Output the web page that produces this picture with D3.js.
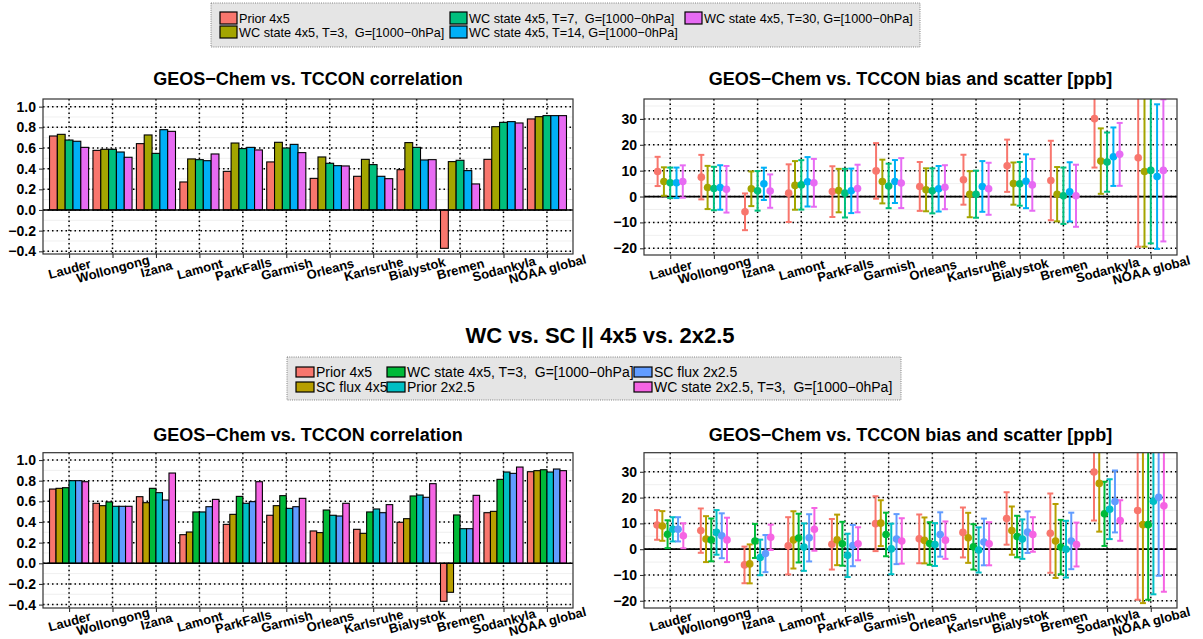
<!DOCTYPE html>
<html><head><meta charset="utf-8">
<script src="https://cdn.jsdelivr.net/npm/d3@7"></script>
<style>
body{margin:0;background:#fff;}
svg{display:block;}
text{font-family:"Liberation Sans",Arial,Helvetica,sans-serif;}
</style>
</head><body>
<svg id="c" width="1203" height="639"></svg>
<script>
// ---------------- DATA ----------------
const categories = ["Lauder","Wollongong","Izana","Lamont","ParkFalls","Garmish","Orleans","Karlsruhe","Bialystok","Bremen","Sodankyla","NOAA global"];

// Figure A (top): WC state windows
const seriesA = ["Prior 4x5","WC state 4x5, T=3,  G=[1000\u22120hPa]","WC state 4x5, T=7,  G=[1000\u22120hPa]","WC state 4x5, T=14, G=[1000\u22120hPa]","WC state 4x5, T=30, G=[1000\u22120hPa]"];
const corrA = [
  [0.716,0.577,0.642,0.271,0.374,0.465,0.306,0.326,0.390,-0.371,0.490,0.881],
  [0.732,0.587,0.726,0.494,0.648,0.655,0.513,0.490,0.652,0.468,0.806,0.903],
  [0.677,0.587,0.548,0.487,0.594,0.600,0.452,0.439,0.606,0.481,0.848,0.913],
  [0.665,0.561,0.777,0.477,0.606,0.635,0.429,0.326,0.484,0.381,0.855,0.913],
  [0.606,0.510,0.761,0.542,0.581,0.555,0.426,0.303,0.487,0.252,0.842,0.913]
];
const biasA = [
  [9.7,7.5,-5.9,1.3,1.9,9.9,3.9,6.5,11.9,6.2,30.1,15.0],
  [5.8,3.5,3.0,4.3,2.3,5.8,2.6,0.9,5.0,0.9,13.7,9.7],
  [5.3,3.1,2.2,4.5,1.3,4.1,2.2,0.9,4.9,0.3,13.3,10.1],
  [5.3,3.5,4.9,5.7,2.2,5.8,3.0,3.9,5.9,1.8,15.4,7.7],
  [5.8,2.8,2.1,5.3,3.1,5.2,3.6,3.0,4.5,0.3,16.3,10.1]
];
const scatterA = [
  [5.65,8.6,7.1,11.15,9.8,10.75,9.45,9.65,10.1,15.35,18.9,34.4],
  [5.5,8.35,6.7,9.4,8.4,8.45,8.3,8.9,8.15,10.5,12.65,29.1],
  [5.9,8.4,7.65,9.55,9.4,8.6,8.7,9.1,8.45,10.9,11.45,28.2],
  [5.9,8.6,6.25,9.55,8.6,8.3,8.8,9.8,10.4,11.45,11.3,27.95],
  [6.25,9.0,6.45,9.25,9.2,9.65,8.5,10.05,10.0,12.0,12.15,27.45]
];

// Figure B (bottom): WC vs SC, 4x5 vs 2x2.5
const seriesB = ["Prior 4x5","SC flux 4x5","WC state 4x5, T=3,  G=[1000\u22120hPa]","Prior 2x2.5","SC flux 2x2.5","WC state 2x2.5, T=3,  G=[1000\u22120hPa]"];
const corrB = [
  [0.719,0.581,0.645,0.277,0.377,0.465,0.313,0.329,0.397,-0.368,0.490,0.887],
  [0.726,0.558,0.587,0.303,0.474,0.558,0.297,0.290,0.432,-0.281,0.503,0.897],
  [0.732,0.594,0.726,0.497,0.648,0.655,0.516,0.497,0.652,0.468,0.813,0.906],
  [0.800,0.552,0.684,0.497,0.581,0.532,0.465,0.526,0.661,0.335,0.884,0.884],
  [0.800,0.552,0.613,0.548,0.597,0.548,0.458,0.490,0.639,0.335,0.871,0.913],
  [0.790,0.552,0.874,0.619,0.790,0.629,0.581,0.568,0.771,0.658,0.932,0.897]
];
const biasB = [
  [9.4,7.2,-6.1,1.3,1.9,9.9,4.0,6.5,11.9,6.2,29.9,15.0],
  [9.0,3.9,-5.7,3.6,3.6,10.1,3.4,4.4,7.2,3.2,25.5,9.5],
  [5.8,3.6,3.2,4.3,2.1,5.7,2.2,0.9,4.9,0.8,13.7,9.5],
  [7.7,6.5,-3.2,0.8,-2.4,0.1,1.8,-0.3,3.9,0.0,15.5,18.6],
  [7.7,5.2,-1.7,4.4,1.4,3.9,5.7,2.8,6.6,3.2,18.5,20.1],
  [5.2,3.6,4.6,7.7,2.1,3.2,3.5,2.1,5.7,1.8,11.1,16.8]
];
const scatterB = [
  [5.75,8.6,7.1,11.1,9.8,10.65,9.45,9.7,10.15,15.35,18.8,34.6],
  [5.75,8.9,7.55,11.1,9.8,8.9,8.9,9.7,9.35,14.35,18.7,30.4],
  [5.4,8.3,6.6,9.45,8.5,8.45,8.25,8.8,8.05,10.55,12.45,29.1],
  [4.7,8.65,6.9,9.2,8.4,9.8,8.3,8.75,7.65,11.0,11.6,36.1],
  [4.7,8.7,7.2,9.15,8.0,9.7,8.6,9.05,8.05,10.95,12.0,30.4],
  [4.85,8.6,4.9,8.3,6.4,8.8,7.25,8.35,6.7,8.5,7.85,33.3]
];

const corrTicks = [-0.4,-0.2,0.0,0.2,0.4,0.6,0.8,1.0];
const corrMinor = [-0.3,-0.1,0.1,0.3,0.5,0.7,0.9];
const biasTicks = [-20,-10,0,10,20,30];
const biasMinor = [-15,-5,5,15,25,35];

const titleCorr = "GEOS\u2212Chem vs. TCCON correlation";
const titleBias = "GEOS\u2212Chem vs. TCCON bias and scatter [ppb]";
const titleMid = "WC vs. SC || 4x5 vs. 2x2.5";

// ---------------- STYLE ----------------
const colorsA = ["#F8766D","#A3A500","#00BF7D","#00B0F6","#E76BF3"];
const colorsB = ["#F8766D","#B79F00","#00BA38","#00BFC4","#619CFF","#F564E3"];

const svg = d3.select("#c");
let clipN = 0;

function panel(L, R, T, B, yDomain, majors, minors, fmt) {
  const x = d3.scalePoint().domain(categories).range([L, R]).padding(0.6);
  const y = d3.scaleLinear().domain(yDomain).range([B, T]);
  const g = svg.append("g");
  g.append("rect").attr("x", L).attr("y", T).attr("width", R - L).attr("height", B - T).attr("fill", "#fff");
  minors.forEach(v => g.append("line").attr("x1", L).attr("x2", R).attr("y1", y(v)).attr("y2", y(v))
    .attr("stroke", "#EBEBEB").attr("stroke-width", 0.8));
  majors.forEach(v => g.append("line").attr("x1", L).attr("x2", R).attr("y1", y(v)).attr("y2", y(v))
    .attr("stroke", "#EBEBEB").attr("stroke-width", 1.2));
  categories.forEach(c => g.append("line").attr("x1", x(c)).attr("x2", x(c)).attr("y1", T).attr("y2", B)
    .attr("stroke", "#EBEBEB").attr("stroke-width", 1.2));
  majors.forEach(v => g.append("line").attr("x1", L).attr("x2", R).attr("y1", y(v)).attr("y2", y(v))
    .attr("stroke", "#000").attr("stroke-width", 1.5).attr("stroke-dasharray", "1.5,3"));
  categories.forEach(c => g.append("line").attr("x1", x(c)).attr("x2", x(c)).attr("y1", T).attr("y2", B)
    .attr("stroke", "#000").attr("stroke-width", 1.5).attr("stroke-dasharray", "1.5,3"));
  const id = "clip" + (clipN++);
  svg.append("clipPath").attr("id", id).append("rect")
    .attr("x", L).attr("y", T).attr("width", R - L).attr("height", B - T);
  const geom = g.append("g").attr("clip-path", `url(#${id})`);
  return {x, y, g, geom, L, R, T, B, fmt, majors};
}

function finish(p, title, titleY, labOff) {
  const {x, y, g, L, R, T, B} = p;
  g.append("rect").attr("x", L).attr("y", T).attr("width", R - L).attr("height", B - T)
    .attr("fill", "none").attr("stroke", "#333").attr("stroke-width", 1.2);
  const ya = g.append("g").attr("transform", `translate(${L},0)`)
    .call(d3.axisLeft(y).tickValues(p.majors).tickSize(4).tickPadding(3).tickFormat(p.fmt));
  ya.select(".domain").remove();
  ya.selectAll("line").attr("stroke", "#333").attr("stroke-width", 1.1);
  ya.selectAll("text").attr("fill", "#000").style("font-size", "14px").style("font-weight", "bold")
    .style("font-family", "Liberation Sans, Arial, sans-serif");
  const xa = g.append("g").attr("transform", `translate(0,${B})`)
    .call(d3.axisBottom(x).tickSize(4).tickPadding(3));
  xa.select(".domain").remove();
  xa.selectAll("line").attr("stroke", "#333").attr("stroke-width", 1.1);
  xa.selectAll("text").attr("fill", "#000").attr("y", 0).attr("dy", "0.35em")
    .attr("transform", `translate(0,${labOff}) rotate(-15)`)
    .style("text-anchor", "middle").style("font-size", "13px").style("font-weight", "bold")
    .style("font-family", "Liberation Sans, Arial, sans-serif");
  svg.append("text").attr("x", (L + R) / 2).attr("y", titleY).attr("text-anchor", "middle")
    .style("font-size", "18px").style("font-weight", "bold").text(title);
}

function drawCorr(L, R, T, B, dom, values, colors, title, titleY, labOff) {
  const p = panel(L, R, T, B, dom, corrTicks, corrMinor, d3.format(".1f"));
  const step = p.x.step();
  const n = values.length;
  const bw = 0.9 * step / n;
  values.forEach((ser, s) => {
    p.geom.selectAll(null).data(ser).enter().append("rect")
      .attr("x", (d, i) => p.x(categories[i]) - 0.45 * step + s * bw)
      .attr("y", d => p.y(Math.max(0, d)))
      .attr("width", bw)
      .attr("height", d => Math.abs(p.y(d) - p.y(0)))
      .attr("fill", colors[s]).attr("stroke", "#000").attr("stroke-width", 1.1);
  });
  p.geom.append("line").attr("x1", L).attr("x2", R).attr("y1", p.y(0)).attr("y2", p.y(0))
    .attr("stroke", "#000").attr("stroke-width", 1.6);
  finish(p, title, titleY, labOff);
}

function drawBias(L, R, T, B, dom, means, sds, colors, title, titleY, labOff) {
  const p = panel(L, R, T, B, dom, biasTicks, biasMinor, d3.format("d"));
  const step = p.x.step();
  const n = means.length;
  const dw = 0.72 * step / n;
  const off = s => (s - (n - 1) / 2) * dw;
  p.geom.append("line").attr("x1", L).attr("x2", R).attr("y1", p.y(0)).attr("y2", p.y(0))
    .attr("stroke", "#000").attr("stroke-width", 1.8);
  means.forEach((ser, s) => {
    const gg = p.geom.append("g").attr("stroke", colors[s]).attr("stroke-width", 2);
    ser.forEach((m, i) => {
      const cx = p.x(categories[i]) + off(s);
      const lo = p.y(m - sds[s][i]), hi = p.y(m + sds[s][i]);
      gg.append("line").attr("x1", cx).attr("x2", cx).attr("y1", lo).attr("y2", hi);
      gg.append("line").attr("x1", cx - 3).attr("x2", cx + 3).attr("y1", lo).attr("y2", lo);
      gg.append("line").attr("x1", cx - 3).attr("x2", cx + 3).attr("y1", hi).attr("y2", hi);
    });
  });
  means.forEach((ser, s) => {
    p.geom.selectAll(null).data(ser).enter().append("circle")
      .attr("cx", (d, i) => p.x(categories[i]) + off(s))
      .attr("cy", d => p.y(d)).attr("r", 3.8).attr("fill", colors[s]);
  });
  finish(p, title, titleY, labOff);
}

function legend(box, cols, rows, keyW, keyH, fontSize, names, colors, baseOff) {
  svg.append("rect").attr("x", box[0]).attr("y", box[1]).attr("width", box[2]).attr("height", box[3])
    .attr("fill", "#E5E5E5").attr("stroke", "#666").attr("stroke-width", 0.8).attr("stroke-dasharray", "1,1.2");
  names.forEach((nm, i) => {
    const c = Math.floor(i / 2), r = i % 2;
    const kx = cols[c], ky = rows[r];
    svg.append("rect").attr("x", kx).attr("y", ky).attr("width", keyW).attr("height", keyH)
      .attr("fill", colors[i]).attr("stroke", "#000").attr("stroke-width", 1.2);
    svg.append("text").attr("x", kx + keyW + 2).attr("y", ky + baseOff)
      .style("font-size", fontSize + "px").style("white-space", "pre").attr("fill", "#000").text(nm);
  });
}

// ---------------- DRAW ----------------
legend([211, 3, 709, 44], [220, 450, 685], [12, 26], 17, 12, 12.7, seriesA, colorsA, 11);
drawCorr(43, 573, 99, 254, [-0.426, 1.074], corrA, colorsA, titleCorr, 85, 15);
drawBias(644, 1177, 99, 255, [-22.6, 37.7], biasA, scatterA, colorsA, titleBias, 85, 15);

svg.append("text").attr("x", 600).attr("y", 343).attr("text-anchor", "middle")
  .style("font-size", "22px").style("font-weight", "bold").text(titleMid);

legend([287, 357, 614, 43], [296, 387, 634], [367, 382], 18, 10, 14, seriesB, colorsB, 10);
drawCorr(43, 573, 452.7, 608, [-0.433, 1.071], corrB, colorsB, titleCorr, 441, 13.5);
drawBias(644, 1177, 452.7, 608, [-22.8, 37.4], biasB, scatterB, colorsB, titleBias, 441, 13.5);
</script>
</body></html>
